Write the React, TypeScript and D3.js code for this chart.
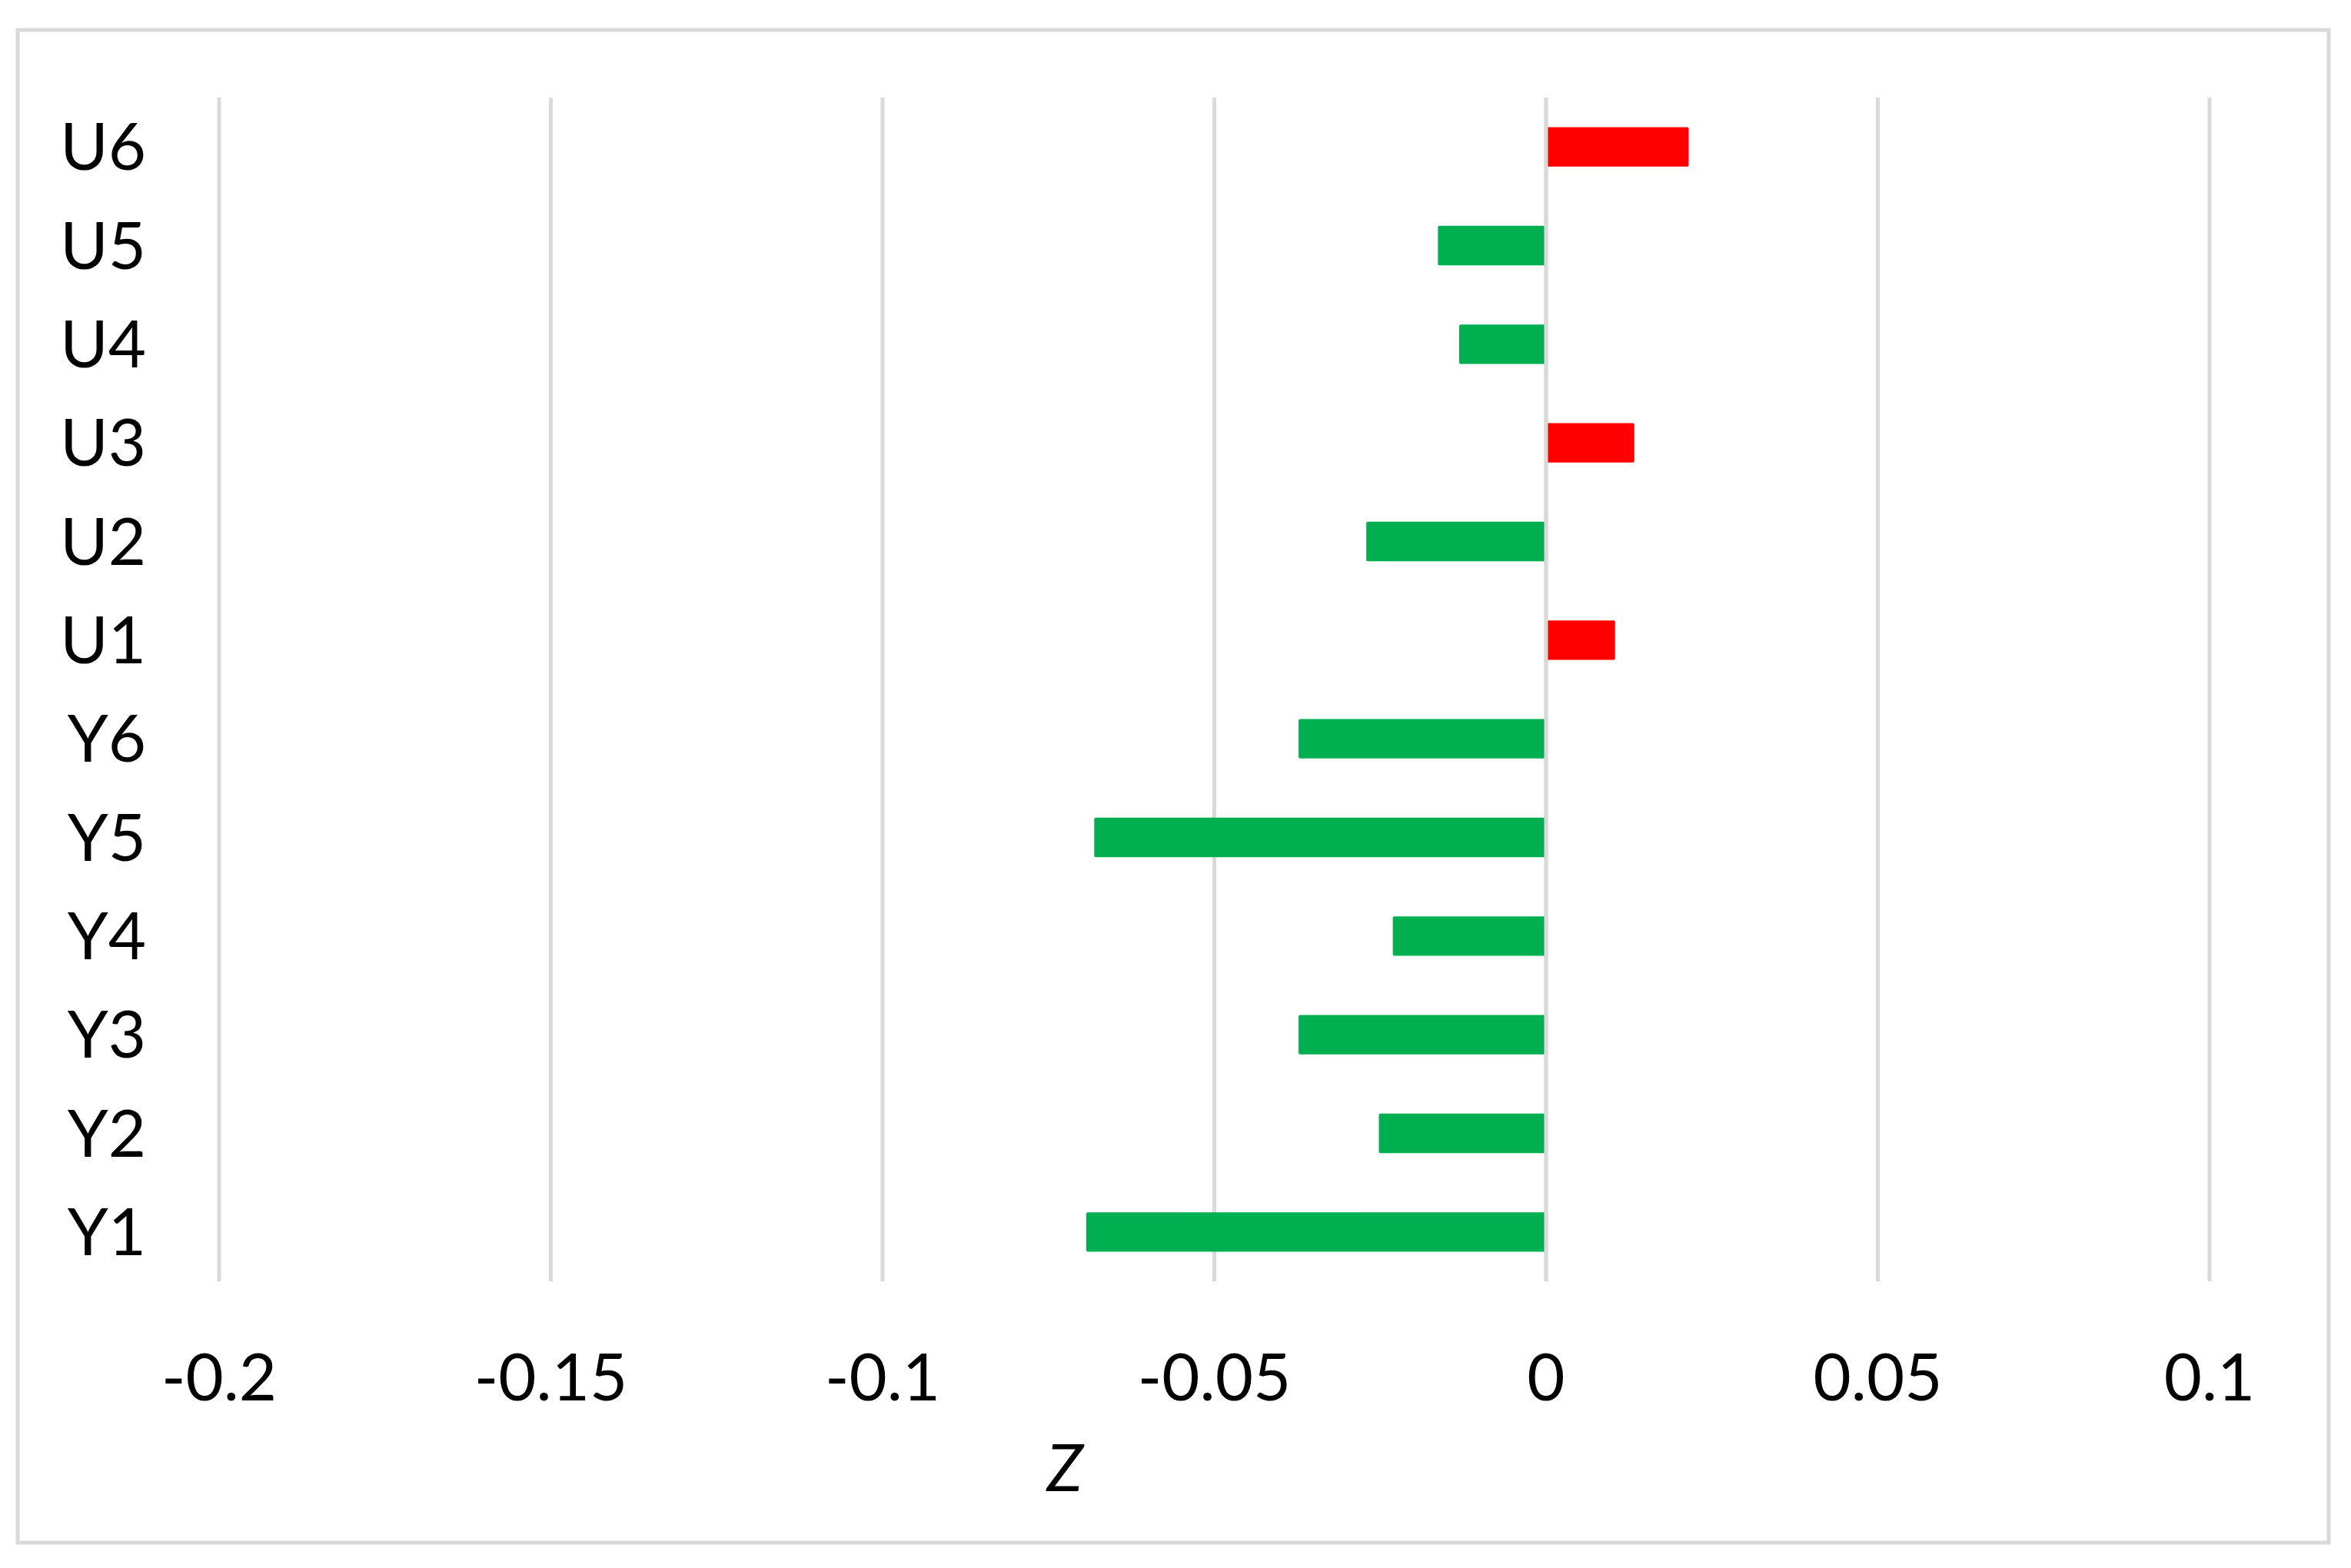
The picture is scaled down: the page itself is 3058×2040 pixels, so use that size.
import React from "react";
import * as d3 from "d3";

const categories = ["Y1", "Y2", "Y3", "Y4", "Y5", "Y6", "U1", "U2", "U3", "U4", "U5", "U6"];
const values = [-0.0693, -0.0252, -0.0373, -0.0231, -0.0681, -0.0373, 0.0104, -0.0271, 0.0133, -0.0131, -0.0163, 0.0215];
const xTicks = [-0.2, -0.15, -0.1, -0.05, 0, 0.05, 0.1];
const axisTitle = "Z";

const W = 3058;
const H = 2040;
const plot = { left: 285, right: 2874, top: 127, bottom: 1667 };
const FONT = "Lato, 'Open Sans', sans-serif";
const GRID = "#d9d9d9";
const POS = "#FF0000";
const NEG = "#00B050";

export default function App() {
  const x = d3.scaleLinear().domain([-0.2, 0.1]).range([plot.left, plot.right]);
  const y = d3
    .scaleBand<string>()
    .domain([...categories].reverse())
    .range([plot.top, plot.bottom])
    .paddingInner(0.6)
    .paddingOuter(0.3);
  const fmt = (v: number) => (v === 0 ? "0" : String(+v.toFixed(2)));

  return (
    <svg
      width={W}
      height={H}
      viewBox={`0 0 ${W} ${H}`}
      style={{ position: "absolute", left: 0, top: 0, background: "#fff" }}
    >
      <rect x={0} y={0} width={W} height={H} fill="#fff" />
      <rect x={23} y={39} width={3006} height={1968} fill="none" stroke={GRID} strokeWidth={5} />
      {xTicks.map((t) => (
        <line key={"g" + t} x1={x(t)} x2={x(t)} y1={plot.top} y2={plot.bottom} stroke={GRID} strokeWidth={5} />
      ))}
      {categories.map((c, i) => {
        const v = values[i];
        const x0 = x(Math.min(0, v));
        const x1 = x(Math.max(0, v));
        return (
          <rect
            key={c}
            x={x0}
            y={y(c)!}
            width={x1 - x0}
            height={y.bandwidth()}
            fill={v >= 0 ? POS : NEG}
            rx={2}
          />
        );
      })}
      <line x1={x(0)} x2={x(0)} y1={plot.top} y2={plot.bottom} stroke={GRID} strokeWidth={5} />
      {categories.map((c) => (
        <text
          key={"l" + c}
          x={190}
          y={y(c)! + y.bandwidth() / 2 + 30}
          textAnchor="end"
          fontFamily={FONT}
          fontSize={85}
          fill="#000"
        >
          {c}
        </text>
      ))}
      {xTicks.map((t) => (
        <text
          key={"t" + t}
          x={x(t)}
          y={1822}
          textAnchor="middle"
          fontFamily={FONT}
          fontSize={85}
          fill="#000"
        >
          {fmt(t)}
        </text>
      ))}
      <text x={1385} y={1940} textAnchor="middle" fontFamily={FONT} fontSize={85} fontStyle="italic" fill="#000">
        {axisTitle}
      </text>
    </svg>
  );
}
